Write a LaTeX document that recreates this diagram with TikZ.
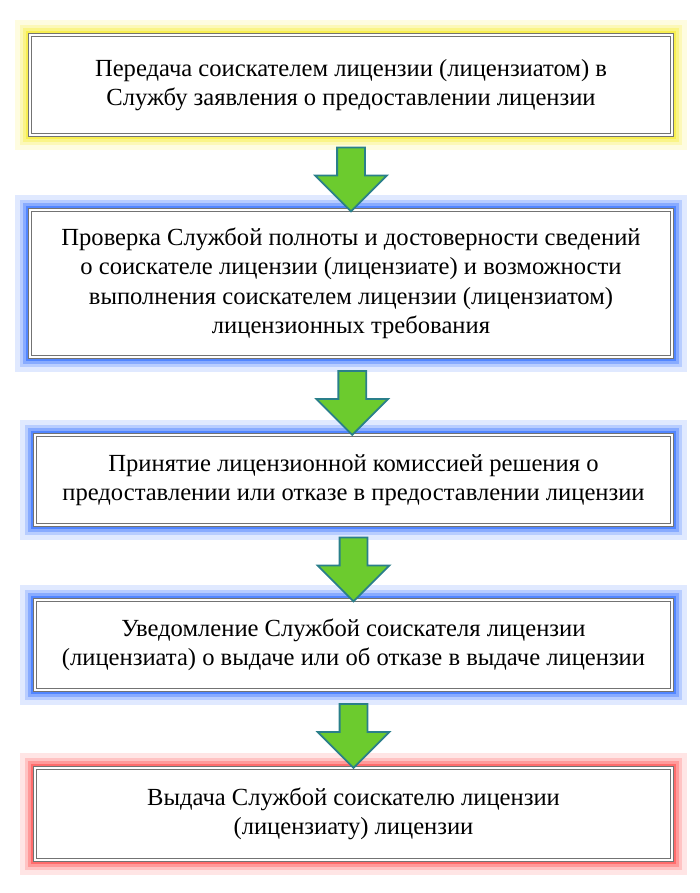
\documentclass[tikz,border=0pt]{standalone}
\usepackage{fontspec}
\setmainfont{Liberation Serif}
\usetikzlibrary{shapes.arrows,calc,backgrounds}

\definecolor{arrowfill}{HTML}{6CCB2E}
\definecolor{arrowline}{HTML}{2A7F8A}
\tikzset{
  stepbox/.style={draw=black!55, double=white, double distance=3pt, line width=1.4pt,
    fill=white, align=center, inner sep=0pt,
    font=\fontsize{35}{42}\selectfont},
  downarrow/.style={single arrow, draw=arrowline, line width=2.5pt, fill=arrowfill,
    rotate=-90, inner xsep=0pt, inner ysep=0.65cm, single arrow head extend=1.1cm,
    minimum height=3.2cm},
}
\newcommand{\glowbox}[2]{%
  \foreach \w/\o in {40/0.12,28/0.18,18/0.26,10/0.4}{
    \draw[#2, line width=\w pt, opacity=\o] (#1.south west) rectangle (#1.north east);
  }}

\begin{document}
\begin{tikzpicture}[x=0.05cm,y=-0.05cm]
\useasboundingbox (0,0) rectangle (700,893);

\node[stepbox, minimum width=32.1cm, minimum height=5cm] (s1) at (351,85)
  {Передача соискателем лицензии (лицензиатом) в\\Службу заявления о предоставлении лицензии};
\node[stepbox, minimum width=32.1cm, minimum height=7.35cm] (s2) at (351,283.5)
  {Проверка Службой полноты и достоверности сведений\\о соискателе лицензии (лицензиате) и возможности\\выполнения соискателем лицензии (лицензиатом)\\лицензионных требования};
\node[stepbox, minimum width=31.85cm, minimum height=4.5cm] (s3) at (353.5,480)
  {Принятие лицензионной комиссией решения о\\предоставлении или отказе в предоставлении лицензии};
\node[stepbox, minimum width=31.85cm, minimum height=4.5cm] (s4) at (353.5,645)
  {Уведомление Службой соискателя лицензии\\(лицензиата) о выдаче или об отказе в выдаче лицензии};
\node[stepbox, minimum width=31.85cm, minimum height=4.6cm] (s5) at (353.5,814)
  {Выдача Службой соискателю лицензии\\(лицензиату) лицензии};

% glow behind the boxes
\begin{pgfonlayer}{background}
\glowbox{s1}{yellow!90!olive}
\glowbox{s2}{blue!70!cyan}
\glowbox{s3}{blue!70!cyan}
\glowbox{s4}{blue!70!cyan}
\glowbox{s5}{red!85}
\end{pgfonlayer}

% arrows
\node[downarrow] (a1) at ($(s1.south)!0.5!(s2.north)$) {};
\node[downarrow] (a2) at ($(s2.south)!0.5!(s3.north)$) {};
\node[downarrow] (a3) at ($(s3.south)!0.5!(s4.north)$) {};
\node[downarrow] (a4) at ($(s4.south)!0.5!(s5.north)$) {};

\end{tikzpicture}
\end{document}
